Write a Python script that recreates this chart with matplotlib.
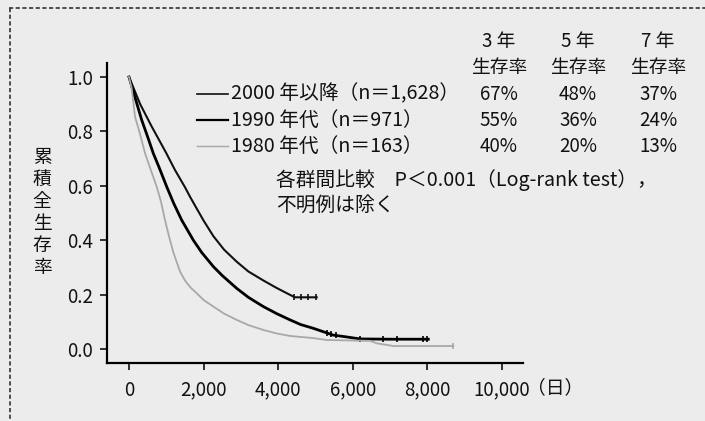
import numpy as np
import matplotlib
matplotlib.use('Agg')
from matplotlib import pyplot as plt
from matplotlib.lines import Line2D

plt.rcParams['font.family'] = ['Noto Sans CJK JP', 'DejaVu Sans']

#### Data (days, cumulative survival)
# 2000 onward (n=1,628)
t_2000 = [0, 150, 300, 450, 600, 800, 1000, 1233, 1500, 1635, 1800, 2000, 2261, 2550, 2887,
          3200, 3601, 3950, 4317, 4450, 4700, 5032]
s_2000 = [1.0, 0.95, 0.90, 0.86, 0.82, 0.77, 0.72, 0.658, 0.595, 0.56, 0.52, 0.472, 0.415, 0.365, 0.321,
          0.285, 0.252, 0.225, 0.199, 0.19, 0.19, 0.19]
c_2000 = [4420, 4600, 4800, 5000]

# 1990s (n=971)
t_1990 = [0, 150, 340, 500, 652, 800, 1010, 1200, 1412, 1725, 1948, 2261, 2500, 2887, 3200,
          3601, 3960, 4317, 4600, 4942, 5478, 5800, 6193, 7000, 8025]
s_1990 = [1.0, 0.93, 0.842, 0.78, 0.719, 0.67, 0.597, 0.535, 0.474, 0.40, 0.355, 0.303, 0.27, 0.223, 0.19,
          0.156, 0.13, 0.107, 0.09, 0.076, 0.051, 0.045, 0.037, 0.036, 0.036]
c_1990 = [5300, 5420, 5550, 6200, 6820, 7180, 7880, 7990]

# 1980s (n=163)
t_1980 = [0, 70, 161, 277, 429, 580, 742, 860, 965, 1080, 1189, 1367, 1500, 1650, 1815, 2000, 2261,
          2550, 2887, 3200, 3601, 3960, 4317, 4942, 5300, 6461, 6640, 7087, 8695]
s_1980 = [1.0, 0.96, 0.854, 0.80, 0.72, 0.66, 0.597, 0.54, 0.474, 0.41, 0.355, 0.285, 0.252, 0.226, 0.205, 0.18, 0.156,
          0.13, 0.107, 0.088, 0.07, 0.057, 0.048, 0.040, 0.033, 0.030, 0.021, 0.011, 0.011]
c_1980 = [8695]

legend_labels = ['2000 年以降（n＝1,628）', '1990 年代（n＝971）', '1980 年代（n＝163）']
col_heads = ['3 年', '5 年', '7 年']
rate_3y = ['67%', '55%', '40%']
rate_5y = ['48%', '36%', '20%']
rate_7y = ['37%', '24%', '13%']

x_ticks = [0, 2000, 4000, 6000, 8000, 10000]
x_ticklabels = ['0', '2,000', '4,000', '6,000', '8,000', '10,000']
y_ticks = [0.0, 0.2, 0.4, 0.6, 0.8, 1.0]

bg = '#ececec'
ink = '#111111'
W, H = 705, 421

def fx(px):
    return px / W

def fy(py):
    return 1 - py / H


fig = plt.figure(figsize=(7.05, 4.21), dpi=100, facecolor=bg)
ax = fig.add_axes([fx(107), fy(363), fx(523) - fx(107), fy(63) - fy(363)])
ax.set_facecolor(bg)

series = [
    (t_2000, s_2000, c_2000, '#111111', 1.5),
    (t_1990, s_1990, c_1990, '#000000', 2.0),
    (t_1980, s_1980, c_1980, '#a8a8a8', 1.3),
]
for t, s, cens, col, lw in series:
    ax.plot(t, s, color=col, lw=lw, solid_joinstyle='round')
    # censoring marks sit on the curve
    ax.plot(cens, np.interp(cens, t, s), ls='none', marker='|', ms=5, mew=1.2, color=col)

ax.set_xlim(-590, 10563)
ax.set_ylim(-0.0515, 1.0515)
ax.set_xticks(x_ticks)
ax.set_xticklabels(x_ticklabels)
ax.set_yticks(y_ticks)
ax.set_yticklabels([f'{v:.1f}' for v in y_ticks])
for side in ['top', 'right']:
    ax.spines[side].set_visible(False)
for side in ['left', 'bottom']:
    ax.spines[side].set_linewidth(1.6)
ax.tick_params(axis='both', direction='out', length=5, width=1.2, labelsize=13.5, colors=ink)
ax.tick_params(axis='x', pad=7)
ax.tick_params(axis='y', pad=5)

# x unit
fig.text(fx(555), fy(388), '（日）', fontsize=13.5, ha='center', va='center', color=ink)

# stacked y label
for i, ch in enumerate('累積全生存率'):
    fig.text(fx(42), fy(158 + i * 21.8), ch, fontsize=13.5, ha='center', va='center', color=ink)

# legend rows
row_y = [94, 120, 146]
for (t, s, cens, col, lw), lab, yy in zip(series, legend_labels, row_y):
    fig.add_artist(Line2D([fx(197), fx(228)], [fy(yy), fy(yy)], color=col, lw=lw * 0.8))
    fig.text(fx(231), fy(yy), lab, fontsize=14.2, ha='left', va='center', color=ink)

# survival table
col_x = [499, 578, 658]
for cx, head, rates in zip(col_x, col_heads, [rate_3y, rate_5y, rate_7y]):
    fig.text(fx(cx), fy(42), head, fontsize=13.5, ha='center', va='center', color=ink)
    fig.text(fx(cx), fy(68), '生存率', fontsize=13.5, ha='center', va='center', color=ink)
    for r, yy in zip(rates, row_y):
        fig.text(fx(cx), fy(yy), r, fontsize=13.5, ha='center', va='center', color=ink)

fig.text(fx(276), fy(180), '各群間比較　P＜0.001（Log-rank test），', fontsize=14.2,
         ha='left', va='center', color=ink)
fig.text(fx(276), fy(205), '不明例は除く', fontsize=14.2, ha='left', va='center', color=ink)

# dashed frame of the scan
fig.add_artist(Line2D([fx(9), fx(705)], [fy(8), fy(8)], color='#333333', lw=1.2, ls=(0, (2.5, 1.5))))
fig.add_artist(Line2D([fx(10), fx(10)], [fy(8), fy(421)], color='#333333', lw=1.2, ls=(0, (2.5, 1.5))))

plt.savefig('out.png', dpi=100, facecolor=bg)
